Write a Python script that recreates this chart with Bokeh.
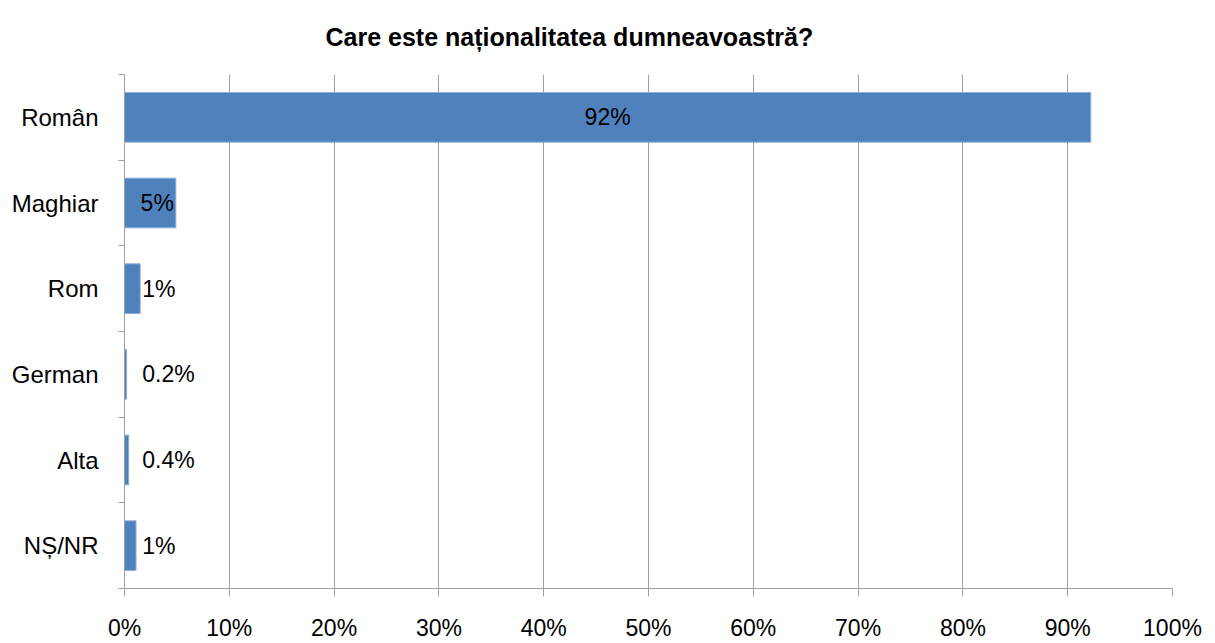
from bokeh.plotting import figure
from bokeh.models import Range1d, FixedTicker, LinearAxis, ColumnDataSource, PrintfTickFormatter, Title, Grid
from bokeh.core.properties import value
from bokeh.embed import file_html
from bokeh.resources import INLINE

# ---- data ----
categories = ["Român", "Maghiar", "Rom", "German", "Alta", "NȘ/NR"]
values = [92.2, 4.9, 1.5, 0.2, 0.4, 1.1]
value_labels = ["92%", "5%", "1%", "0.2%", "0.4%", "1%"]
x_ticks = [0, 10, 20, 30, 40, 50, 60, 70, 80, 90, 100]
title_text = "Care este naționalitatea dumneavoastră?"

FONT = "Liberation Sans"
BLUE = "#4F81BD"
GRID = "#A0A0A0"

n = len(categories)
ypos = [n - i - 0.5 for i in range(n)]

p = figure(width=1215, height=643, output_backend="svg", toolbar_location=None,
           x_range=Range1d(0, 100), y_range=Range1d(0, n),
           x_axis_type=None, y_axis_type=None,
           min_border_left=124, min_border_right=43, min_border_top=73, min_border_bottom=52)
p.outline_line_color = None
p.background_fill_color = "white"
p.border_fill_color = "white"

t = Title(text=title_text, align="left", offset=201, vertical_align="top", text_font=FONT,
          text_font_size="25px", text_font_style="bold", text_color="#000000", standoff=44)
p.add_layout(t, "above")

# x axis
xaxis = LinearAxis(ticker=FixedTicker(ticks=x_ticks, minor_ticks=[]),
                   formatter=PrintfTickFormatter(format="%d%%"))
xaxis.axis_line_color = GRID
xaxis.major_tick_line_color = GRID
xaxis.major_tick_out = 8
xaxis.major_tick_in = 0
xaxis.minor_tick_line_color = None
xaxis.major_label_text_font = FONT
xaxis.major_label_text_font_size = "23px"
xaxis.major_label_text_color = "#000000"
xaxis.major_label_standoff = 18
p.add_layout(xaxis, "below")

# y axis (category labels at centers, ticks at boundaries)
yaxis = LinearAxis(ticker=FixedTicker(ticks=ypos, minor_ticks=list(range(n + 1))))
yaxis.major_label_overrides = {y: c for y, c in zip(ypos, categories)}
yaxis.axis_line_color = GRID
yaxis.major_tick_line_color = None
yaxis.major_tick_out = 0
yaxis.major_tick_in = 0
yaxis.minor_tick_line_color = GRID
yaxis.minor_tick_out = 6
yaxis.minor_tick_in = 0
yaxis.major_label_text_font = FONT
yaxis.major_label_text_font_size = "24px"
yaxis.major_label_text_color = "#000000"
yaxis.major_label_standoff = 20
p.add_layout(yaxis, "left")

# vertical gridlines
p.xgrid.visible = False
p.ygrid.visible = False
g = Grid(dimension=0, ticker=FixedTicker(ticks=x_ticks), grid_line_color=GRID, grid_line_width=1)
p.add_layout(g)

src = ColumnDataSource(dict(y=ypos, v=values, lab=value_labels, cat=categories))
p.hbar(y="y", left=0, right="v", height=0.58, source=src,
       fill_color=BLUE, line_color="#8FB0DA", line_width=1)

# data labels
big_i = [i for i in range(n) if values[i] > 50]
mid_i = [i for i in range(n) if 3 <= values[i] <= 50]
small_i = [i for i in range(n) if values[i] < 3]
min_anchor = 1.5

p.text(x=[values[i] / 2 for i in big_i], y=[ypos[i] for i in big_i],
       text=[value_labels[i] for i in big_i], text_align="center", text_baseline="middle",
       text_font=value(FONT), text_font_size="23px", text_color="#000000")
p.text(x=[values[i] for i in mid_i], y=[ypos[i] for i in mid_i],
       text=[value_labels[i] for i in mid_i], text_align="right", text_baseline="middle",
       x_offset=-2, text_font=value(FONT), text_font_size="23px", text_color="#000000")
p.text(x=[max(values[i], min_anchor) for i in small_i], y=[ypos[i] for i in small_i],
       text=[value_labels[i] for i in small_i], text_align="left", text_baseline="middle",
       x_offset=2, text_font=value(FONT), text_font_size="23px", text_color="#000000")

open("out.html", "w").write(file_html(p, INLINE))
